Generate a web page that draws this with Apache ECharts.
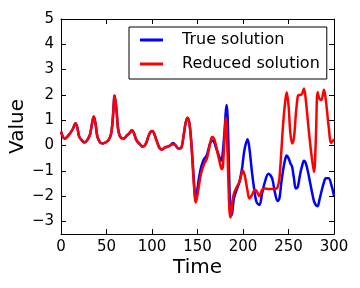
<!DOCTYPE html>
<html><head><meta charset="utf-8">
<script src="https://cdn.jsdelivr.net/npm/echarts@6/dist/echarts.min.js"></script>
<style>html,body{margin:0;padding:0;background:#fff}#c{width:360px;height:288px}</style>
</head><body><div id="c"></div>
<script>
var times = [0,2,4,7,10,13,16,18,20,23,26,29,32,34,36,38,40,43,46,49,52,55,57,59,61,63,66,69,72,75,78,80,83,86,90,93,96,98,100,102,105,108,111,114,117,120,123,126,129,132,135,137,139,141,143,145,147,148,150,152,154,157,160,162,164,166,168,170,172,174,176,177,178,180,181,182,183,184,185,186,187,188,190,193,196,199,200,202,205,207,210,213,215,218,221,224,228,232,235,238,240,242,244,246,248,250,252,254,256,258,260,261,263,265,267,269,272,275,278,280,282,284,286,289,291,294,297,300];
var trueSolution = [0.55,0.35,0.27,0.35,0.48,0.65,0.88,0.7,0.35,0.2,0.12,0.22,0.45,0.85,1.15,0.85,0.35,0.12,0.08,0.12,0.2,0.45,1.1,1.98,1.4,0.6,0.3,0.28,0.38,0.48,0.6,0.5,0.2,0.08,-0.05,0.05,0.35,0.52,0.57,0.5,0.2,-0.08,-0.16,-0.08,-0.05,0.0,0.1,0.0,-0.12,-0.1,0.45,0.9,1.1,0.9,0.2,-0.8,-1.9,-2.2,-1.7,-1.2,-0.85,-0.55,-0.4,-0.15,0.1,0.2,0.15,-0.05,-0.25,-0.45,-0.6,-0.5,-0.2,0.7,1.3,1.6,1.2,0.0,-1.5,-2.5,-2.75,-2.7,-2.1,-1.75,-1.45,-0.9,-0.6,-0.1,0.25,-0.1,-1.1,-1.9,-2.25,-2.35,-1.9,-1.45,-1.12,-1.3,-1.85,-2.2,-2.1,-1.5,-1.0,-0.6,-0.4,-0.5,-0.7,-0.85,-1.3,-1.7,-1.65,-1.5,-1.1,-0.8,-0.6,-0.7,-1.15,-1.7,-2.2,-2.35,-2.4,-2.15,-1.85,-1.45,-1.3,-1.3,-1.55,-2.0];
var reducedSolution = [0.55,0.35,0.27,0.35,0.48,0.65,0.88,0.7,0.35,0.2,0.12,0.22,0.45,0.85,1.15,0.85,0.35,0.12,0.08,0.12,0.2,0.45,1.1,1.98,1.4,0.6,0.3,0.28,0.38,0.48,0.6,0.5,0.2,0.08,-0.05,0.05,0.35,0.52,0.57,0.5,0.2,-0.08,-0.16,-0.08,-0.05,0.0,0.05,0.0,-0.12,-0.1,0.45,0.9,1.1,0.9,0.2,-1.0,-2.0,-2.25,-1.95,-1.5,-1.1,-0.75,-0.55,-0.25,0.1,0.33,0.28,0.05,-0.3,-0.6,-0.9,-0.93,-0.8,0.5,1.1,0.8,-0.3,-1.5,-2.5,-2.85,-2.7,-2.3,-1.9,-1.65,-1.45,-1.05,-1.0,-1.2,-1.8,-2.1,-1.95,-1.75,-1.8,-2.0,-1.75,-1.7,-1.72,-1.72,-1.72,-1.65,-1.3,-0.3,0.8,1.6,2.1,1.6,0.5,0.08,0.3,1.2,1.9,2.0,2.0,2.05,2.25,1.8,0.7,-0.3,-1.05,0.2,2.1,1.85,1.8,2.2,1.8,0.8,0.1,0.25];
var xTicks = [0,50,100,150,200,250,300];
var yTicks = [-3,-2,-1,0,1,2,3,4,5];

function pairs(vals){ return times.map(function(t,i){ return [t, vals[i]]; }); }
var FONT = 'DejaVu Sans';
function fmt(v){ return String(v).replace('-', '\u2212'); }
var lineStyleAxis = {show:true, onZero:false, lineStyle:{color:'#000', width:1}};
function xAx(pos, labels){
  return {type:'value', position:pos, min:0, max:300,
    axisLine:lineStyleAxis,
    axisTick:{show:true, inside:true, length:5, lineStyle:{color:'#000'}, customValues:xTicks},
    axisLabel:{show:labels, customValues:xTicks, formatter:fmt, color:'#000', fontFamily:FONT, fontSize:15, margin:6},
    splitLine:{show:false},
    name: labels ? 'Time' : '', nameLocation:'middle', nameGap:24, nameMoveOverlap:false,
    nameTextStyle:{color:'#000', fontFamily:FONT, fontSize:20}};
}
function yAx(pos, labels){
  return {type:'value', position:pos, min:-3.5, max:5,
    axisLine:lineStyleAxis,
    axisTick:{show:true, inside:true, length:5, lineStyle:{color:'#000'}, customValues:yTicks},
    axisLabel:{show:labels, customValues:yTicks, formatter:fmt, color:'#000', fontFamily:FONT, fontSize:15, margin:7},
    splitLine:{show:false},
    name: labels ? 'Value' : '', nameLocation:'middle', nameGap:33, nameMoveOverlap:false,
    nameTextStyle:{color:'#000', fontFamily:FONT, fontSize:20}};
}
var chart = echarts.init(document.getElementById('c'), null, {renderer:'canvas'});
chart.setOption({
  animation:false,
  backgroundColor:'#fff',
  grid:{left:61, right:26, top:19, bottom:54, containLabel:false, outerBoundsMode:'none'},
  legend:{orient:'vertical', left:129, top:27,
    borderColor:'#000', borderWidth:1, borderRadius:0, backgroundColor:'#fff',
    padding:[5,7,7,11], itemGap:8, itemWidth:23, itemHeight:3, icon:'rect',
    textStyle:{fontFamily:FONT, fontSize:16, color:'#000', padding:[0,0,0,14], lineHeight:15},
    data:['True solution','Reduced solution']},
  xAxis:[xAx('bottom', true), xAx('top', false)],
  yAxis:[yAx('left', true), yAx('right', false)],
  series:[
    {name:'True solution', type:'line', data:pairs(trueSolution), smooth:0.35, showSymbol:false,
      lineStyle:{color:'#0000ff', width:2.5}, itemStyle:{color:'#0000ff'}},
    {name:'Reduced solution', type:'line', data:pairs(reducedSolution), smooth:0.35, showSymbol:false,
      lineStyle:{color:'#ff0000', width:2.5}, itemStyle:{color:'#ff0000'}}
  ]
});
</script></body></html>
